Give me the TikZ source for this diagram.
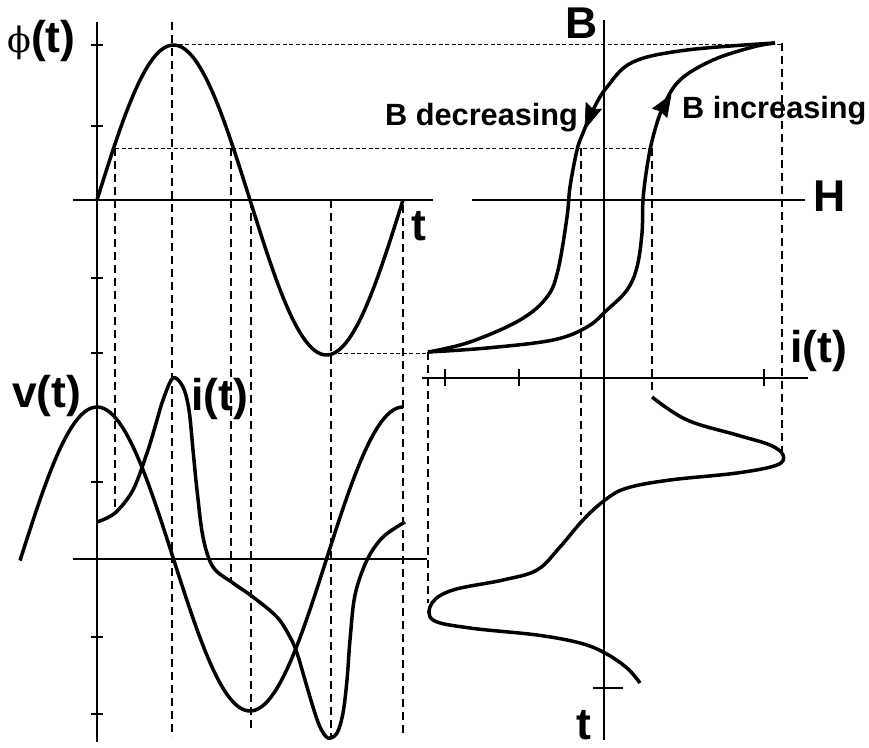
\documentclass[tikz,border=0pt]{standalone}
\usepackage{fontspec}
\setmainfont{Liberation Sans}
\newfontfamily\phifont{DejaVu Serif}
\usetikzlibrary{arrows.meta}
\tikzset{
  curve/.style={line width=3.5pt, line join=round, line cap=butt},
  axisline/.style={line width=1.6pt},
  vdash/.style={line width=1.3pt, dash pattern=on 8pt off 5pt},
  hdash/.style={line width=1pt, dash pattern=on 4pt off 2.5pt},
  headfill/.style={fill=black, draw=black, line width=0.6pt, line join=round},
  biglab/.style={font=\fontsize{44.5}{45}\selectfont\bfseries, inner sep=0pt, anchor=base west},
  midlab/.style={font=\fontsize{30.7}{31}\selectfont\bfseries, inner sep=0pt, anchor=base west}
}
\begin{document}
\begin{tikzpicture}[x=1pt,y=-1pt]
\useasboundingbox (0,0) rectangle (869,747);
% ---------- axes ----------
\draw[axisline] (97,22) -- (97,742);
\draw[axisline] (73,200) -- (433,200);
\draw[axisline] (73,559) -- (427,559);
\draw[axisline] (604,20) -- (604,740);
\draw[axisline] (472,200) -- (805,200);
\draw[axisline] (422,378) -- (808,378);
\foreach \yy in {45,126,278,353,482,637,714} \draw[axisline] (91,\yy) -- (103,\yy);
\foreach \xx in {445,519,764} \draw[axisline] (\xx,369) -- (\xx,386);
\draw[axisline] (593,688) -- (623,688);
% ---------- dashed projection lines ----------
\draw[vdash] (115,148) -- (115,512);
\draw[vdash] (172,22) -- (172,737);
\draw[vdash] (231,148) -- (231,580);
\draw[vdash] (251,200) -- (251,728);
\draw[vdash] (331,200) -- (331,737);
\draw[vdash] (403,205) -- (403,733);
\draw[vdash] (581,148) -- (581,515);
\draw[vdash] (652,148) -- (652,393);
\draw[vdash] (782,43) -- (782,452);
\draw[vdash] (428,352) -- (428,603);
\draw[hdash] (172,44) -- (782,44);
\draw[hdash] (115,148) -- (652,148);
\draw[hdash] (331,353) -- (428,353);
% ---------- flux ----------
\draw[curve] plot[domain=97:403,samples=120] (\x,{200-155*sin((\x-97)*1.17647)});
% ---------- voltage ----------
\draw[curve] plot[domain=20:403,samples=120] (\x,{559-152*cos((\x-97)*1.17647)});
% ---------- current vs time (left) ----------
\draw[curve] plot[smooth,tension=0.55] coordinates {(97,522) (115,513) (133,490) (147,453) (155,427) (163,400) (173,378) (183,387) (189,410) (193,450) (197,490) (203,537) (213,567) (233,583) (253,597) (277,617) (290,637) (297,653) (305,680) (313,707) (320,727) (328,738) (337,733) (343,713) (347,680) (350,640) (355,595) (367,560) (383,537) (405,522)};
% ---------- hysteresis loop ----------
\draw[curve] plot[smooth,tension=0.6] coordinates {(775,43) (687,50) (633,62) (607,87) (593,110) (583,133) (577,150) (570,187) (567,217) (558,270) (547,297) (520,320) (470,342) (428,352)};
\draw[curve] plot[smooth,tension=0.6] coordinates {(428,352) (487,348) (553,340) (587,327) (607,310) (627,290) (637,267) (642,233) (643,200) (647,167) (653,137) (663,107) (680,80) (713,60) (753,47) (775,43)};
% arrowheads on the loop
\coordinate (dtip) at (585,129);
\coordinate (inctip) at (671,95);
\filldraw[headfill] (dtip) -- (601.5,109) -- (593,109.5) -- (586,102.5) -- cycle;
\filldraw[headfill] (inctip) -- (667,117.5) -- (660.5,111) -- (652.5,108.5) -- cycle;
% ---------- current vs time (right) ----------
\draw[curve] plot[smooth,tension=0.6] coordinates {(652,397) (687,420) (737,435) (770,445) (783,455) (777,465) (737,473) (670,480) (627,488) (605,500) (583,520) (560,547) (537,570) (503,580) (453,590) (432,603) (433,620) (470,628) (537,635) (580,643) (605,653) (627,668) (640,683)};
% ---------- labels ----------
\node[biglab] (lphi) at (7,52) {{\phifont\mdseries\fontsize{35}{35}\selectfont ϕ}(t)};
\node[biglab] (lt1) at (411,240) {t};
\node[biglab] (lB) at (565,38) {B};
\node[biglab] (lH) at (813,211) {H};
\node[biglab] (li1) at (790,362) {i(t)};
\node[biglab] (lv) at (12,407) {v(t)};
\node[biglab] (li2) at (191,410) {i(t)};
\node[biglab] (lt2) at (576,739) {t};
\node[midlab] (ldec) at (385,125) {B decreasing};
\node[midlab] (linc) at (682,118) {B increasing};
\end{tikzpicture}
\end{document}
